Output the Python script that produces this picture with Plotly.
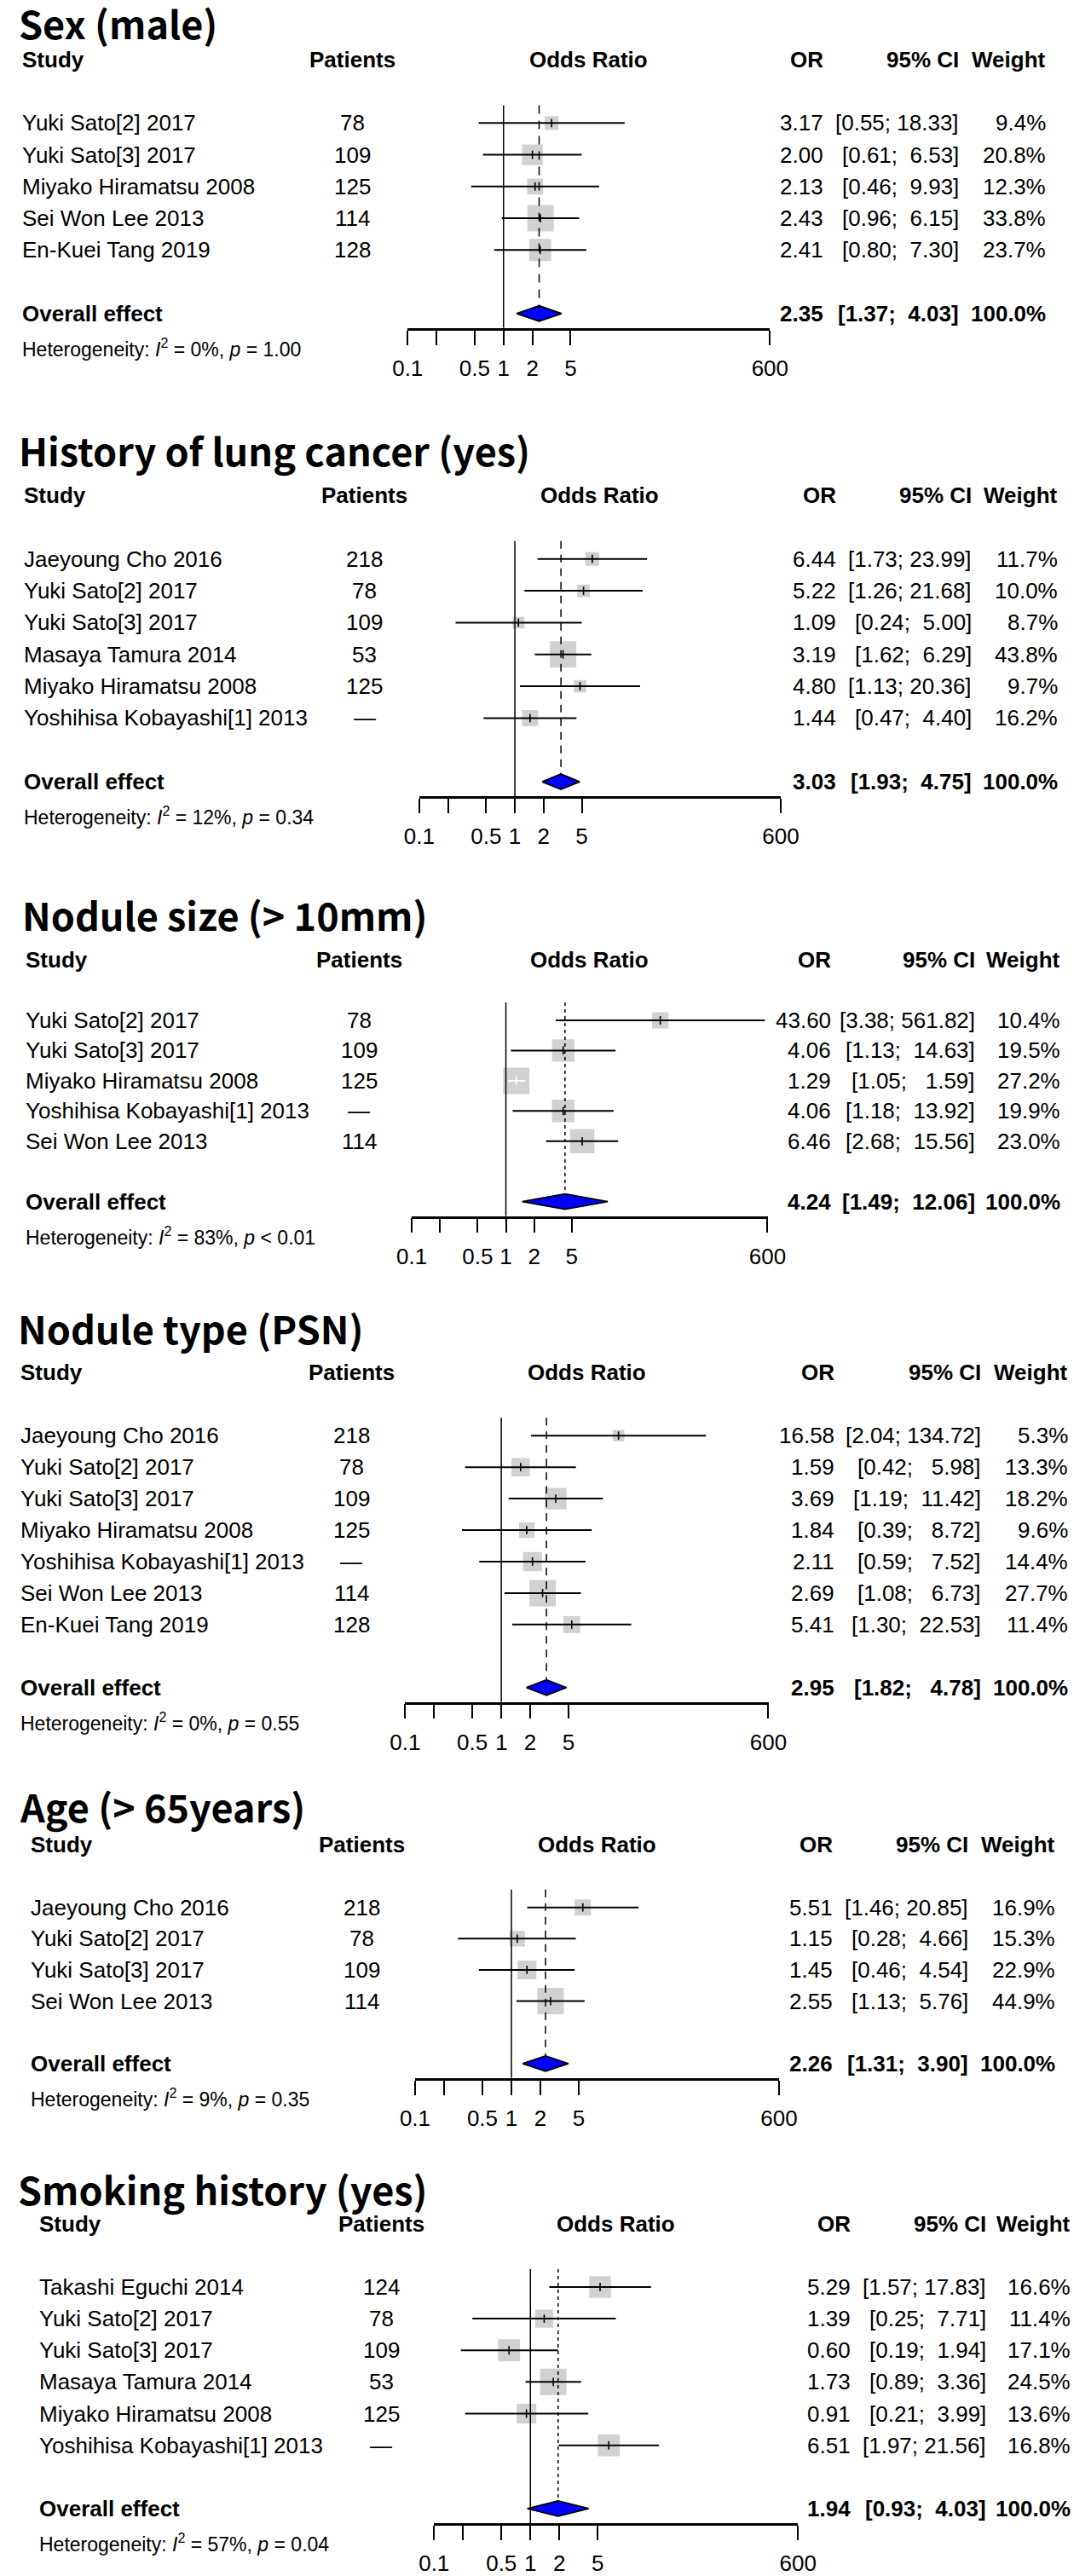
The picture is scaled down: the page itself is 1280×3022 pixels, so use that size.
import math
import plotly.graph_objects as go

W, H = 1280, 3022

# ---------------- data ----------------
sex_study = ["Yuki Sato[2] 2017", "Yuki Sato[3] 2017", "Miyako Hiramatsu 2008",
             "Sei Won Lee 2013", "En-Kuei Tang 2019"]
sex_n = [78, 109, 125, 114, 128]
sex_or = [3.17, 2.00, 2.13, 2.43, 2.41]
sex_lo = [0.55, 0.61, 0.46, 0.96, 0.80]
sex_hi = [18.33, 6.53, 9.93, 6.15, 7.30]
sex_w = [9.4, 20.8, 12.3, 33.8, 23.7]
sex_pooled = [2.35, 1.37, 4.03]
sex_het = ["0%", "= 1.00"]

lung_study = ["Jaeyoung Cho 2016", "Yuki Sato[2] 2017", "Yuki Sato[3] 2017",
              "Masaya Tamura 2014", "Miyako Hiramatsu 2008", "Yoshihisa Kobayashi[1] 2013"]
lung_n = [218, 78, 109, 53, 125, None]
lung_or = [6.44, 5.22, 1.09, 3.19, 4.80, 1.44]
lung_lo = [1.73, 1.26, 0.24, 1.62, 1.13, 0.47]
lung_hi = [23.99, 21.68, 5.00, 6.29, 20.36, 4.40]
lung_w = [11.7, 10.0, 8.7, 43.8, 9.7, 16.2]
lung_pooled = [3.03, 1.93, 4.75]
lung_het = ["12%", "= 0.34"]

size_study = ["Yuki Sato[2] 2017", "Yuki Sato[3] 2017", "Miyako Hiramatsu 2008",
              "Yoshihisa Kobayashi[1] 2013", "Sei Won Lee 2013"]
size_n = [78, 109, 125, None, 114]
size_or = [43.60, 4.06, 1.29, 4.06, 6.46]
size_lo = [3.38, 1.13, 1.05, 1.18, 2.68]
size_hi = [561.82, 14.63, 1.59, 13.92, 15.56]
size_w = [10.4, 19.5, 27.2, 19.9, 23.0]
size_pooled = [4.24, 1.49, 12.06]
size_het = ["83%", "< 0.01"]

type_study = ["Jaeyoung Cho 2016", "Yuki Sato[2] 2017", "Yuki Sato[3] 2017",
              "Miyako Hiramatsu 2008", "Yoshihisa Kobayashi[1] 2013",
              "Sei Won Lee 2013", "En-Kuei Tang 2019"]
type_n = [218, 78, 109, 125, None, 114, 128]
type_or = [16.58, 1.59, 3.69, 1.84, 2.11, 2.69, 5.41]
type_lo = [2.04, 0.42, 1.19, 0.39, 0.59, 1.08, 1.30]
type_hi = [134.72, 5.98, 11.42, 8.72, 7.52, 6.73, 22.53]
type_w = [5.3, 13.3, 18.2, 9.6, 14.4, 27.7, 11.4]
type_pooled = [2.95, 1.82, 4.78]
type_het = ["0%", "= 0.55"]

age_study = ["Jaeyoung Cho 2016", "Yuki Sato[2] 2017", "Yuki Sato[3] 2017", "Sei Won Lee 2013"]
age_n = [218, 78, 109, 114]
age_or = [5.51, 1.15, 1.45, 2.55]
age_lo = [1.46, 0.28, 0.46, 1.13]
age_hi = [20.85, 4.66, 4.54, 5.76]
age_w = [16.9, 15.3, 22.9, 44.9]
age_pooled = [2.26, 1.31, 3.90]
age_het = ["9%", "= 0.35"]

smk_study = ["Takashi Eguchi 2014", "Yuki Sato[2] 2017", "Yuki Sato[3] 2017",
             "Masaya Tamura 2014", "Miyako Hiramatsu 2008", "Yoshihisa Kobayashi[1] 2013"]
smk_n = [124, 78, 109, 53, 125, None]
smk_or = [5.29, 1.39, 0.60, 1.73, 0.91, 6.51]
smk_lo = [1.57, 0.25, 0.19, 0.89, 0.21, 1.97]
smk_hi = [17.83, 7.71, 1.94, 3.36, 3.99, 21.56]
smk_w = [16.6, 11.4, 17.1, 24.5, 13.6, 16.8]
smk_pooled = [1.94, 0.93, 4.03]
smk_het = ["57%", "= 0.04"]

titles = ["Sex (male)", "History of lung cancer (yes)", "Nodule size (> 10mm)",
          "Nodule type (PSN)", "Age (> 65years)", "Smoking history (yes)"]

tick_vals = [0.1, 0.5, 1, 2, 5, 600]
tick_text = ["0.1", "0.5", "1", "2", "5", "600"]
minor_ticks = [0.2]

# ---------------- layout of each panel (pixels) ----------------
panels = [
    dict(data=(sex_study, sex_n, sex_or, sex_lo, sex_hi, sex_w, sex_pooled, sex_het),
         ty=27, tx=2, hy=70, step=37.3, ax=(475, 914), cols=(6, 408, 981, 1145, 1250), dash="10px,8px"),
    dict(data=(lung_study, lung_n, lung_or, lung_lo, lung_hi, lung_w, lung_pooled, lung_het),
         ty=528, tx=2, hy=582, step=37.4, ax=(489, 927), cols=(8, 423, 996, 1160, 1264), dash="9px,7px"),
    dict(data=(size_study, size_n, size_or, size_lo, size_hi, size_w, size_pooled, size_het),
         ty=1074, tx=6, hy=1128, step=35.5, ax=(480, 911), cols=(10, 416, 990, 1164, 1268), dash="4px,4px"),
    dict(data=(type_study, type_n, type_or, type_lo, type_hi, type_w, type_pooled, type_het),
         ty=1560, tx=1, hy=1613, step=37.0, ax=(472, 912), cols=(4, 407, 994, 1172, 1277), dash="9px,7px"),
    dict(data=(age_study, age_n, age_or, age_lo, age_hi, age_w, age_pooled, age_het),
         ty=2122, tx=3, hy=2168, step=36.7, ax=(484, 925), cols=(16, 420, 992, 1156, 1261), dash="9px,7px"),
    dict(data=(smk_study, smk_n, smk_or, smk_lo, smk_hi, smk_w, smk_pooled, smk_het),
         ty=2572, tx=1, hy=2613, step=37.2, ax=(507, 948), cols=(27, 443, 1014, 1178, 1280), dash="4px,4px"),
]

TXT = "Liberation Sans, Arial, sans-serif"
TITLE_FONT = "Noto Sans CJK SC, Noto Sans, sans-serif"
FS = 26
BOX = 31  # side of the largest square, px

fig = go.Figure()
annotations = []


def note(text, x, y, anchor="left", size=FS, family=TXT):
    annotations.append(dict(text=text, x=x / W, y=1 - y / H, xref="paper", yref="paper",
                            xanchor=anchor, yanchor="middle", showarrow=False,
                            font=dict(family=family, size=size, color="black")))


for i, p in enumerate(panels):
    study, n, ors, lo, hi, w, pooled, het = p["data"]
    sfx = "" if i == 0 else str(i + 1)
    xname, yname = "x" + sfx, "y" + sfx
    c_study, c_pat, c_or, c_ci, c_w = p["cols"]
    hy, step = p["hy"], p["step"]
    rows = [hy + (k + 2) * step for k in range(len(study))]
    oy = hy + (len(study) + 3) * step
    axis_y = oy + 17
    top = rows[0] - 21
    box_top = hy + 20
    ax0, ax1 = p["ax"]
    px_per_dec = (ax1 - ax0) / math.log10(6000)

    # squares
    wmax = max(w)
    sizes = [BOX * math.sqrt(v / wmax) for v in w]
    fig.add_trace(go.Scatter(x=ors, y=rows, mode="markers", xaxis=xname, yaxis=yname,
                             marker=dict(symbol="square", size=sizes, color="#BEBEBE",
                                         line=dict(width=0))))
    # confidence intervals (white when hidden inside the square)
    inside = [(math.log10(h) - math.log10(l)) * px_per_dec < s for l, h, s in zip(lo, hi, sizes)]
    for flag, col in [(False, "black"), (True, "white")]:
        xs, ys, xe, ye = [], [], [], []
        for k in range(len(study)):
            if inside[k] == flag:
                xs += [lo[k], hi[k], None]
                ys += [rows[k], rows[k], None]
                xe.append(ors[k])
                ye.append(rows[k])
        if xe:
            fig.add_trace(go.Scatter(x=xs, y=ys, mode="lines", xaxis=xname, yaxis=yname,
                                     line=dict(color=col, width=2)))
            fig.add_trace(go.Scatter(x=xe, y=ye, mode="markers", xaxis=xname, yaxis=yname,
                                     marker=dict(symbol="line-ns", size=7,
                                                 line=dict(color=col, width=1.6))))
    # no-effect line and pooled line
    fig.add_trace(go.Scatter(x=[1, 1], y=[top, axis_y], mode="lines", xaxis=xname, yaxis=yname,
                             line=dict(color="black", width=1.5)))
    fig.add_trace(go.Scatter(x=[pooled[0], pooled[0]], y=[top, oy - 9], mode="lines",
                             xaxis=xname, yaxis=yname,
                             line=dict(color="black", width=1.5, dash=p["dash"])))
    # diamond
    fig.add_trace(go.Scatter(x=[pooled[1], pooled[0], pooled[2], pooled[0], pooled[1]],
                             y=[oy, oy - 9, oy, oy + 9, oy], mode="lines", fill="toself",
                             fillcolor="#0000FF", xaxis=xname, yaxis=yname,
                             line=dict(color="black", width=1.8)))

    fig.update_layout({
        "xaxis" + sfx: dict(
            type="log", range=[-1.0008, math.log10(600) + 0.0008],
            domain=[ax0 / W, ax1 / W], anchor=yname, side="bottom",
            showline=True, linecolor="black", linewidth=2.6, ticks="outside", ticklen=17,
            tickwidth=2, tickcolor="black", tickvals=tick_vals, ticktext=tick_text,
            minor=dict(tickvals=minor_ticks, ticks="outside", ticklen=17, tickwidth=2,
                       tickcolor="black", showgrid=False),
            tickfont=dict(family=TXT, size=FS, color="black"), ticklabelstandoff=5,
            showgrid=False, zeroline=False, fixedrange=True),
        "yaxis" + sfx: dict(
            range=[axis_y, box_top], domain=[1 - axis_y / H, 1 - box_top / H],
            anchor=xname, visible=False, showgrid=False, zeroline=False, fixedrange=True),
    })

    # text columns
    note(f"<b>{titles[i]}</b>", p["tx"], p["ty"], size=45, family=TITLE_FONT)
    note("<b>Study</b>", c_study, hy)
    note("<b>Patients</b>", c_pat, hy, "center")
    note("<b>Odds Ratio</b>", (ax0 + ax1) / 2, hy, "center")
    note("<b>OR</b>", c_or, hy, "right")
    note("<b>95% CI</b>", c_ci, hy, "right")
    note("<b>Weight</b>", c_w, hy, "right")

    width = max(len(f"{v:.2f}") for v in hi + [pooled[2]])

    def ci_text(a, b):
        s = f"{b:.2f}"
        return f"[{a:.2f};\u00a0" + "\u00a0" * (width - len(s)) + s + "]"

    for k, y in enumerate(rows):
        note(study[k], c_study, y)
        note("\u2014" if n[k] is None else str(n[k]), c_pat, y, "center")
        note(f"{ors[k]:.2f}", c_or, y, "right")
        note(ci_text(lo[k], hi[k]), c_ci, y, "right")
        note(f"{w[k]:.1f}%", c_w, y, "right")
    note("<b>Overall effect</b>", c_study, oy)
    note(f"<b>{pooled[0]:.2f}</b>", c_or, oy, "right")
    note(f"<b>{ci_text(pooled[1], pooled[2])}</b>", c_ci, oy, "right")
    note("<b>100.0%</b>", c_w, oy, "right")
    note(f"Heterogeneity: <i>I</i><sup>2</sup> = {het[0]}, <i>p</i> {het[1]}",
         c_study, oy + 40, size=23)

fig.update_layout(
    width=W, height=H, margin=dict(l=0, r=0, t=0, b=0),
    paper_bgcolor="white", plot_bgcolor="white", showlegend=False, hovermode=False,
    annotations=annotations,
)

# drop the browser's default page margin so the figure starts at the top-left corner
fig.write_html("out.html", config={"displayModeBar": False},
               post_script="document.body.style.margin = '0px';")
